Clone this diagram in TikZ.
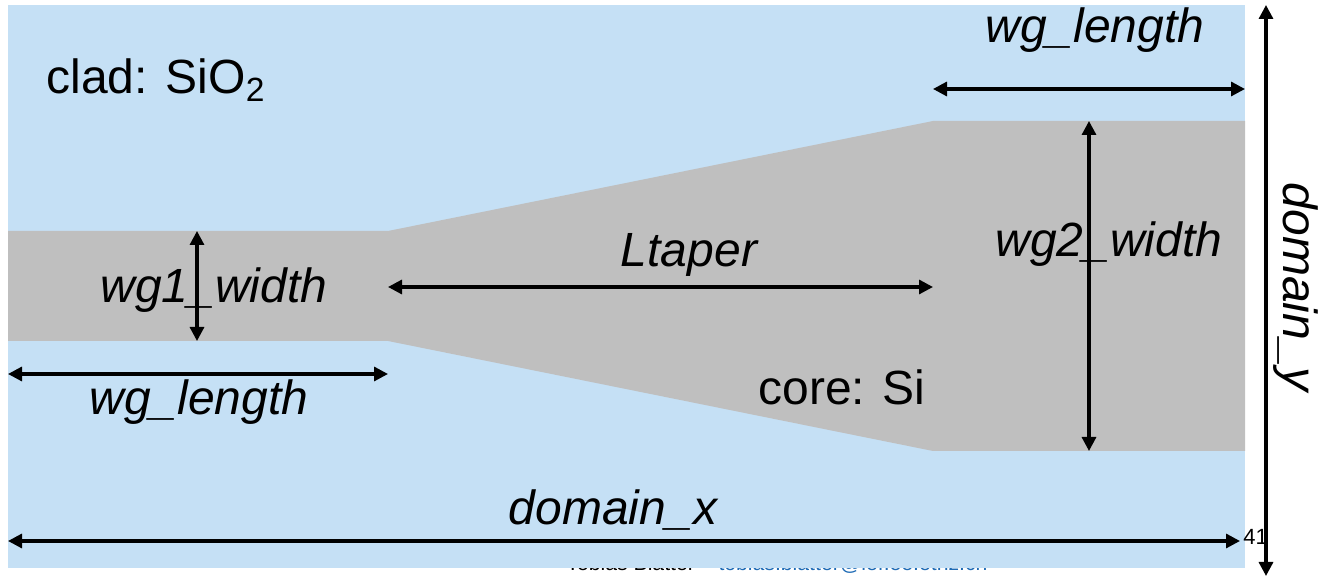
\documentclass[tikz,border=0pt]{standalone}
\usepackage{fontspec}
\setmainfont{Liberation Sans}
\usetikzlibrary{arrows.meta}
\definecolor{cladblue}{HTML}{C5E0F5}
\definecolor{coregray}{HTML}{BFBFBF}
\definecolor{linkblue}{HTML}{1F6BB5}

\begin{document}
\begin{tikzpicture}[x=0.5pt,y=-0.5pt,
  dim/.style={line width=1.6pt,{Triangle[length=7pt,width=7pt]}-{Triangle[length=7pt,width=7pt]}},
  lbl/.style={font=\fontsize{24}{28}\selectfont\itshape,inner sep=0pt,anchor=base},
  mat/.style={font=\fontsize{24}{28}\selectfont,inner sep=0pt,anchor=base}]
\useasboundingbox (0,0) rectangle (1319,576);
\node (foot) [anchor=base,inner sep=0pt,font=\fontsize{10.6}{12}\selectfont] at (777,571) {Tobias Blatter -- \textcolor{linkblue}{\underline{tobias.blatter@ief.ee.ethz.ch}}};
\fill[cladblue] (8,5) rectangle (1245,568);
\fill[coregray] (8,231) -- (388,231) -- (933,121) -- (1245,121) -- (1245,451) -- (933,451) -- (388,341) -- (8,341) -- cycle;
\node (page) [anchor=base west,inner sep=0pt,font=\fontsize{11}{13}\selectfont] at (1243,545) {41};

\node (clad) [mat] at (156,94) {clad: SiO\textsubscript{2}};
\node (core) [mat] at (842,405) {core: Si};
\node (wgl2) [lbl] at (1095,43) {wg\_length};
\node (wgl1) [lbl] at (199,415) {wg\_length};
\node (wgw1) [lbl] at (214,303) {wg1\_width};
\node (wgw2) [lbl] at (1109,257) {wg2\_width};
\node (ltap) [lbl] at (689,267) {Ltaper};
\node (domx) [lbl] at (613,525) {domain\_x};
\node (domy) [lbl,rotate=-90] at (1283,287) {domain\_y};

\coordinate (w1t) at (197,231);
\coordinate (w1b) at (197,341);
\coordinate (w2t) at (1089,121);
\coordinate (w2b) at (1089,451);
\coordinate (tl) at (388,287);
\coordinate (tr) at (933,287);
\coordinate (l2l) at (933,89);
\coordinate (l2r) at (1245,89);
\coordinate (l1l) at (8,374);
\coordinate (l1r) at (388,374);
\coordinate (xl) at (8,541);
\coordinate (xr) at (1240,541);
\coordinate (yt) at (1266,5);
\coordinate (yb) at (1266,576);

\draw[dim] (w1t) -- (w1b);
\draw[dim] (w2t) -- (w2b);
\draw[dim] (tl) -- (tr);
\draw[dim] (l2l) -- (l2r);
\draw[dim] (l1l) -- (l1r);
\draw[dim] (xl) -- (xr);
\draw[dim] (yt) -- (yb);
\end{tikzpicture}
\end{document}
